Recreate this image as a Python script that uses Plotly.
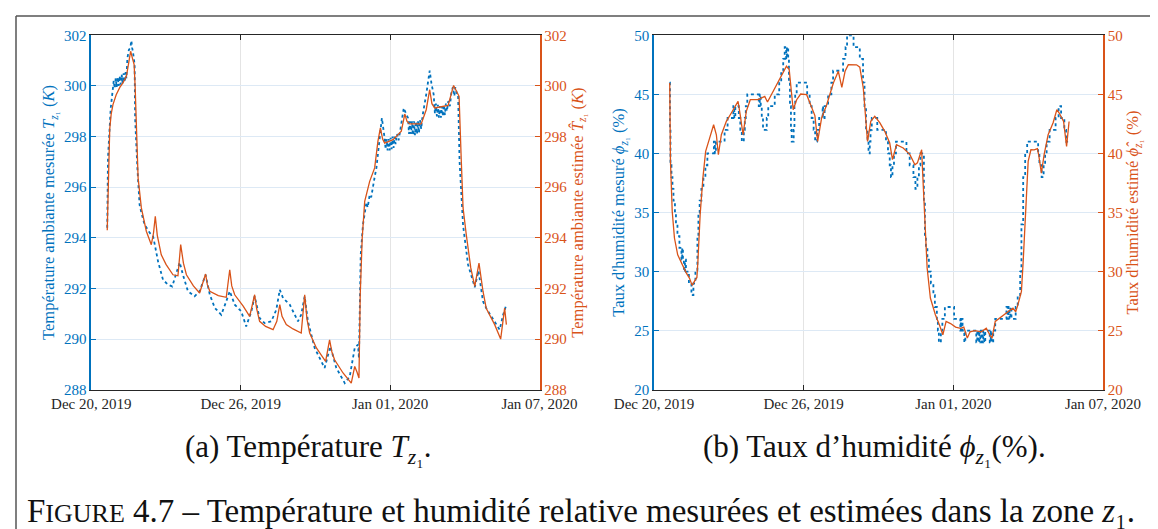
import numpy as np
import pandas as pd
import plotly.graph_objects as go

# ---------------- data (day offsets from 2019-12-20 00:00) ----------------
t_meas_days = [0.64, 0.67, 0.78, 0.87, 0.90, 0.94, 0.98, 1.02, 1.06, 1.10, 1.14, 1.18, 1.22, 1.26, 1.30, 1.34,
               1.38, 1.41, 1.45, 1.51, 1.56, 1.58, 1.61, 1.64, 1.67, 1.74, 1.76, 1.85, 1.94, 2.01, 2.14, 2.35,
               2.48, 2.55, 2.68, 2.88, 3.08, 3.25, 3.41, 3.55, 3.68, 3.88, 4.15, 4.35, 4.59, 4.76, 4.96, 5.22,
               5.42, 5.56, 5.76, 6.02, 6.22, 6.43, 6.56, 6.76, 6.96, 7.23, 7.43, 7.57, 7.70, 7.97, 8.30, 8.43,
               8.57, 8.70, 8.97, 9.37, 9.60, 9.84, 10.18, 10.38, 10.58, 10.71, 10.75, 10.82, 10.91, 11.00, 11.05,
               11.10, 11.18, 11.24, 11.31, 11.38, 11.45, 11.61, 11.67, 11.78, 11.82, 11.86, 11.90, 11.94, 11.98,
               12.02, 12.06, 12.10, 12.14, 12.18, 12.22, 12.28, 12.34, 12.40, 12.45, 12.55, 12.64, 12.72, 12.76,
               12.80, 12.84, 12.88, 12.92, 12.96, 13.00, 13.04, 13.08, 13.12, 13.16, 13.20, 13.25, 13.30, 13.45,
               13.59, 13.66, 13.75, 13.80, 13.84, 13.88, 13.92, 13.96, 14.00, 14.04, 14.08, 14.12, 14.16, 14.20,
               14.24, 14.28, 14.34, 14.40, 14.46, 14.52, 14.58, 14.62, 14.68, 14.73, 14.79, 14.93, 15.13, 15.33,
               15.40, 15.55, 15.73, 15.86, 16.20, 16.40, 16.54, 16.67]
t_meas_vals = [294.4, 297.15, 299.12, 299.85, 300.2, 299.9, 300.3, 299.95, 300.35, 300.0, 300.4, 300.05, 300.45,
               300.1, 300.5, 300.15, 300.55, 300.3, 301.1, 301.43, 301.5, 301.6, 301.79, 301.5, 301.37, 300.84,
               298.73, 296.76, 295.3, 295.0, 294.52, 294.19, 294.06, 293.73, 293.07, 292.34, 292.15, 292.08,
               292.54, 293.03, 292.54, 291.89, 291.69, 291.89, 292.54, 291.75, 291.23, 290.96, 291.49, 291.89,
               291.36, 291.1, 290.5, 291.1, 291.69, 290.83, 290.63, 290.7, 291.16, 291.95, 291.62, 291.36,
               290.7, 290.96, 291.69, 290.7, 289.65, 288.86, 289.71, 288.86, 288.26, 288.53, 289.65, 289.78,
               289.24, 293.33, 294.52, 295.0, 295.4, 295.2, 295.7, 295.6, 296.1, 296.4, 296.76, 298.34, 298.73,
               297.94, 297.5, 297.9, 297.45, 297.9, 297.45, 297.95, 297.5, 298.0, 297.55, 298.0, 297.7, 298.1,
               297.85, 298.2, 298.5, 299.13, 298.9, 298.73, 298.1, 298.6, 298.1, 298.6, 298.05, 298.6, 298.05,
               298.6, 298.1, 298.6, 298.15, 298.65, 298.3, 298.8, 299.66, 300.6, 300.1, 299.66, 298.9, 299.3,
               298.8, 299.25, 298.75, 299.2, 298.75, 299.2, 298.8, 299.25, 298.85, 299.3, 299.0, 299.4, 299.2,
               299.72, 299.95, 299.6, 299.95, 299.7, 299.66, 297.02, 294.5, 292.94, 292.28, 292.05, 292.7,
               291.49, 291.22, 290.7, 290.37, 290.96, 291.36]

t_est_days = [0.64, 0.70, 0.74, 0.80, 0.87, 1.00, 1.15, 1.27, 1.41, 1.50, 1.58, 1.65, 1.72, 1.76, 1.81, 1.88,
              2.01, 2.21, 2.41, 2.50, 2.57, 2.65, 2.81, 3.00, 3.28, 3.48, 3.59, 3.70, 3.82, 4.10, 4.35, 4.59,
              4.66, 4.76, 5.10, 5.42, 5.56, 5.64, 5.76, 6.10, 6.36, 6.56, 6.64, 6.76, 7.00, 7.30, 7.45, 7.57,
              7.66, 7.83, 8.10, 8.43, 8.57, 8.66, 8.77, 9.04, 9.25, 9.41, 9.57, 9.66, 9.77, 10.11, 10.44, 10.58,
              10.67, 10.75, 10.80, 10.88, 10.98, 11.18, 11.38, 11.51, 11.61, 11.70, 11.78, 12.12, 12.45, 12.59,
              12.68, 12.79, 13.25, 13.45, 13.59, 13.68, 13.79, 14.33, 14.55, 14.66, 14.77, 14.86, 14.93, 15.06,
              15.24, 15.40, 15.57, 15.73, 15.86, 16.20, 16.44, 16.60, 16.67]
t_est_vals = [294.3, 296.5, 298.3, 298.9, 299.26, 299.65, 299.95, 300.12, 300.38, 300.9, 301.37, 301.1, 300.84,
              300.0, 298.34, 296.36, 295.18, 294.26, 293.73, 294.2, 294.85, 294.1, 293.33, 292.95, 292.54, 292.5,
              293.73, 293.0, 292.54, 292.1, 291.82, 292.57, 292.15, 291.89, 291.72, 291.65, 292.74, 292.1,
              291.75, 291.3, 290.9, 291.75, 291.2, 290.7, 290.5, 290.37, 290.7, 291.36, 290.9, 290.57, 290.4,
              290.24, 291.75, 290.8, 290.24, 289.65, 289.35, 289.12, 289.97, 289.5, 289.18, 288.66, 288.26,
              288.92, 288.7, 288.46, 291.75, 293.99, 295.44, 296.23, 296.76, 297.81, 298.34, 297.9, 297.74,
              297.88, 298.21, 298.89, 298.6, 298.5, 298.5, 299.06, 299.85, 299.3, 299.13, 299.23, 300.02, 299.8,
              299.59, 297.02, 295.18, 294.12, 292.81, 292.08, 293.0, 291.89, 291.22, 290.57, 290.0, 291.22,
              290.57]

h_meas_days = [0.63, 0.64, 0.66, 0.70, 0.74, 0.78, 0.84, 0.88, 0.94, 1.02, 1.10, 1.13, 1.16, 1.20, 1.24, 1.28,
               1.40, 1.50, 1.58, 1.66, 1.74, 1.78, 1.83, 1.90, 1.98, 2.06, 2.14, 2.40, 2.44, 2.48, 2.83, 2.95,
               3.18, 3.22, 3.26, 3.40, 3.46, 3.52, 3.60, 3.64, 3.68, 3.74, 4.20, 4.24, 4.28, 4.32, 4.37, 4.52,
               4.58, 4.84, 5.02, 5.10, 5.18, 5.24, 5.30, 5.33, 5.38, 5.41, 5.45, 5.49, 5.52, 5.60, 5.63, 5.66,
               5.72, 6.14, 6.24, 6.32, 6.40, 6.46, 6.54, 6.62, 6.76, 6.78, 6.84, 6.98, 7.11, 7.18, 7.58, 7.68,
               7.74, 8.00, 8.25, 8.38, 8.44, 8.50, 8.56, 8.60, 8.65, 8.68, 8.73, 8.95, 9.30, 9.38, 9.45, 9.50,
               9.56, 9.62, 9.70, 10.12, 10.25, 10.40, 10.48, 10.56, 10.62, 10.68, 10.82, 10.86, 10.90, 10.96,
               11.02, 11.10, 11.20, 11.26, 11.34, 11.38, 11.42, 11.50, 11.56, 11.66, 12.03, 12.28, 12.30, 12.32,
               12.34, 12.37, 12.44, 12.48, 12.92, 12.96, 13.00, 13.04, 13.08, 13.12, 13.16, 13.20, 13.24, 13.28,
               13.46, 13.50, 13.53, 13.60, 13.68, 14.13, 14.17, 14.21, 14.25, 14.29, 14.33, 14.50, 14.58, 14.68,
               14.73, 14.80, 14.88, 14.96, 15.40, 15.45, 15.54, 15.62, 15.68, 15.74, 15.86, 16.10, 16.22, 16.32,
               16.45, 16.52, 16.60]
h_meas_vals = [46, 42, 39, 38, 37, 36, 35, 34, 33, 32, 31, 32, 31, 30, 31, 30,
               29, 28, 29, 30, 33, 35, 36, 37, 38, 39, 40, 41, 40, 41, 42, 43,
               44, 43, 44, 43, 42, 41, 42, 43, 44, 45, 44, 45, 44, 43, 42, 43,
               44, 45, 46, 47, 48, 49, 48, 49, 48, 46, 44, 42, 41, 42, 44, 45,
               46, 45, 44, 43, 42, 41, 42, 43, 44, 43, 44, 45, 46, 47, 48, 49,
               50, 49, 48, 46, 44, 42, 41, 40, 41, 42, 43, 42, 41, 40, 39, 38,
               39, 40, 41, 40, 39, 38, 37, 38, 39, 40, 36, 33, 32, 31,
               30, 29, 28, 27, 26, 25, 24, 25, 26, 27, 26, 25, 26, 25,
               26, 25, 24, 25, 24, 25, 24, 25, 24, 25, 24, 25, 24, 25,
               24, 25, 24, 25, 26, 27, 26, 27, 26, 27, 26, 27, 28, 30,
               34, 38, 40, 41, 40, 39, 38, 39, 40, 41, 42, 43, 44, 43,
               42, 41, 41]

h_est_days = [0.63, 0.66, 0.73, 0.82, 0.95, 1.15, 1.28, 1.42, 1.53, 1.62, 1.72, 1.76, 1.85, 1.96, 2.07, 2.23,
              2.39, 2.50, 2.58, 2.70, 2.90, 3.10, 3.37, 3.46, 3.57, 3.70, 3.86, 4.17, 4.44, 4.55, 4.71, 4.91,
              5.11, 5.31, 5.42, 5.51, 5.58, 5.72, 5.88, 6.12, 6.32, 6.45, 6.56, 6.72, 6.92, 7.19, 7.39, 7.53,
              7.66, 7.79, 8.12, 8.25, 8.39, 8.48, 8.56, 8.69, 8.85, 9.05, 9.25, 9.45, 9.56, 9.72, 9.99, 10.26,
              10.46, 10.56, 10.73, 10.78, 10.86, 10.95, 11.08, 11.28, 11.44, 11.58, 11.71, 11.89, 12.09, 12.29,
              12.42, 12.56, 12.67, 12.86, 13.12, 13.32, 13.46, 13.55, 13.68, 13.92, 14.19, 14.39, 14.50, 14.59,
              14.73, 14.80, 14.89, 15.00, 15.11, 15.24, 15.37, 15.42, 15.53, 15.64, 15.80, 16.00, 16.15, 16.25,
              16.42, 16.54, 16.64]
h_est_vals = [45.96, 39.33, 35.1, 32.84, 31.42, 30.44, 29.93, 29.45, 28.83, 29.17, 29.5, 30.86, 34.81, 37.92,
              40.18, 41.3, 42.43, 41.58, 39.89, 41.58, 42.72, 43.42, 44.41, 43.2, 41.58, 43.56, 44.55, 44.55,
              44.83, 44.35, 44.97, 45.82, 46.53, 47.38, 47.1, 45.0, 43.7, 44.55, 45.03, 44.97, 43.84, 43.2,
              41.02, 43.0, 44.1, 45.96, 46.95, 45.6, 46.95, 47.51, 47.5, 47.3, 45.54, 43.28, 41.02, 42.72,
              43.14, 42.6, 41.87, 40.88, 39.47, 40.74, 40.46, 39.9, 39.04, 39.2, 40.31, 37.92, 33.68, 30.3,
              27.76, 26.34, 25.5, 24.65, 25.78, 25.6, 25.3, 25.2, 25.3, 24.37, 24.9, 25.0, 24.9, 25.2, 24.65,
              24.37, 25.78, 26.2, 26.6, 26.9, 26.6, 27.2, 28.32, 30.86, 35.1, 39.33, 40.31, 40.3, 40.4, 39.9,
              38.34, 39.9, 41.58, 42.6, 43.7, 43.4, 42.7, 40.6, 42.7]

tick_dates = ["2019-12-20", "2019-12-26", "2020-01-01", "2020-01-07"]
tick_labels = ["Dec 20, 2019", "Dec 26, 2019", "Jan 01, 2020", "Jan 07, 2020"]
t_ticks = [288, 290, 292, 294, 296, 298, 300, 302]
h_ticks = [20, 25, 30, 35, 40, 45, 50]

# ---------------- helpers ----------------
base = pd.Timestamp("2019-12-20")
def to_dt(days):
    return base + pd.to_timedelta(np.array(days), unit="D")

W, H = 1158, 529
def px(x): return x / W
def py(y): return 1 - y / H

BLUE = "#0072BD"
ORANGE = "#D95319"
DARK = "#262626"
FONT = "Liberation Serif"
CAPFONT = "Liberation Serif"

fig = go.Figure()
fig.add_trace(go.Scatter(x=to_dt(t_meas_days), y=t_meas_vals, mode="lines",
                         line=dict(color=BLUE, width=1.8, dash="dot"), xaxis="x", yaxis="y"))
fig.add_trace(go.Scatter(x=to_dt(t_est_days), y=t_est_vals, mode="lines",
                         line=dict(color=ORANGE, width=1.3), xaxis="x", yaxis="y2"))
fig.add_trace(go.Scatter(x=to_dt(h_meas_days), y=h_meas_vals, mode="lines",
                         line=dict(color=BLUE, width=1.8, dash="dot", shape="hv"), xaxis="x2", yaxis="y3"))
fig.add_trace(go.Scatter(x=to_dt(h_est_days), y=h_est_vals, mode="lines",
                         line=dict(color=ORANGE, width=1.3), xaxis="x2", yaxis="y4"))

xrange_ = [tick_dates[0], tick_dates[-1]]
ydom = [py(381.7), py(27.3)]

def xaxis(domain, anchor):
    return dict(domain=domain, anchor=anchor, type="date", range=xrange_, automargin=False,
                tickvals=tick_dates, ticktext=tick_labels, ticks="inside", ticklen=5,
                tickcolor=DARK, showline=True, linecolor=DARK, linewidth=1.2, mirror="ticks",
                showgrid=True, gridcolor="#e4e4e4", gridwidth=1.2, zeroline=False,
                tickfont=dict(family=FONT, size=15, color=DARK))

def yleft(rng, ticks, title, anchor):
    return dict(domain=ydom, range=rng, tickvals=ticks, ticks="inside", ticklen=5, anchor=anchor,
                automargin=False,
                tickcolor=BLUE, showline=True, linecolor=BLUE, linewidth=1.6,
                showgrid=True, gridcolor="#dde9f5", gridwidth=1.2, zeroline=False,
                tickfont=dict(family=FONT, size=15, color=BLUE),
                title=dict(text=title, font=dict(family=FONT, size=16.5, color=BLUE), standoff=5))

def yright(rng, ticks, title, overlay, anchor):
    return dict(range=rng, tickvals=ticks, ticks="inside", ticklen=5, overlaying=overlay,
                side="right", anchor=anchor, automargin=False,
                tickcolor=ORANGE, showline=True, linecolor=ORANGE, linewidth=1.6,
                showgrid=False, zeroline=False,
                tickfont=dict(family=FONT, size=15, color=ORANGE),
                title=dict(text=title, font=dict(family=FONT, size=16.5, color=ORANGE), standoff=5))

fig.update_layout(
    width=W, height=H, margin=dict(l=0, r=0, t=0, b=0, autoexpand=False),
    paper_bgcolor="white", plot_bgcolor="white", showlegend=False,
    xaxis=xaxis([px(83.3), px(531.5)], "y"),
    yaxis=yleft([288, 302], t_ticks, "Température ambiante mesurée <i>T</i><sub><i>z</i>₁</sub> (<i>K</i>)", "x"),
    yaxis2=yright([288, 302], t_ticks, "Température ambiante estimée <i>T̂</i><sub><i>z</i>₁</sub> (<i>K</i>)", "y", "x"),
    xaxis2=xaxis([px(646), px(1095)], "y3"),
    yaxis3=yleft([20, 50], h_ticks, "Taux d'humidité mesuré <i>ϕ</i><sub><i>z</i>₁</sub> (%)", "x2"),
    yaxis4=yright([20, 50], h_ticks, "Taux d'humidité estimé <i>ϕ̂</i><sub><i>z</i>₁</sub> (%)", "y3", "x2"),
)

# frame around the figure
fig.add_shape(type="line", xref="paper", yref="paper", x0=px(8), x1=px(8), y0=0, y1=py(8),
              line=dict(color="#555555", width=1.5))
fig.add_shape(type="line", xref="paper", yref="paper", x0=px(8), x1=1, y0=py(8), y1=py(8),
              line=dict(color="#555555", width=1.5))

# captions
fig.add_annotation(xref="paper", yref="paper", x=px(300), y=py(441), showarrow=False,
                   xanchor="center", yanchor="middle",
                   text="(a) Température <i>T</i><sub><i>z</i>₁</sub>.",
                   font=dict(family=CAPFONT, size=31, color="#111111"))
fig.add_annotation(xref="paper", yref="paper", x=px(866), y=py(441), showarrow=False,
                   xanchor="center", yanchor="middle",
                   text="(b) Taux d’humidité <i>ϕ</i><sub><i>z</i>₁</sub>(%).",
                   font=dict(family=CAPFONT, size=31, color="#111111"))
fig.add_annotation(xref="paper", yref="paper", x=px(573), y=py(503), showarrow=False,
                   xanchor="center", yanchor="middle",
                   text="F<span style='font-size:26px'>IGURE</span> 4.7 – Température et humidité relative mesurées et estimées dans la zone <i>z</i>₁.",
                   font=dict(family=CAPFONT, size=33, color="#111111"))

fig.write_html("out.html")
